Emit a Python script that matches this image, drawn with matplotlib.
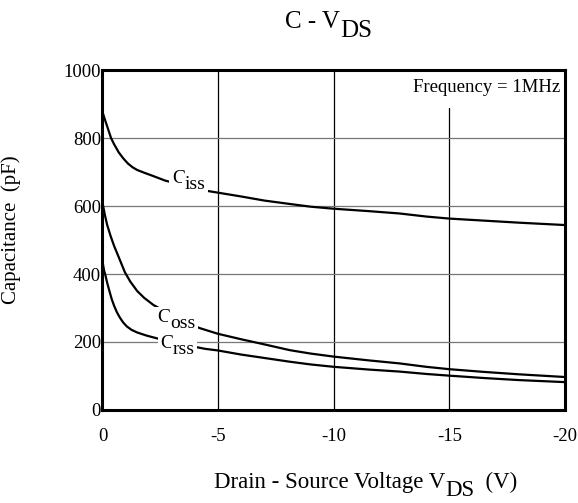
"""C - VDS capacitance curves (Ciss, Coss, Crss vs drain-source voltage)"""
import matplotlib
matplotlib.use('Agg')
import matplotlib.pyplot as plt

plt.rcParams['font.family'] = 'Liberation Serif'
plt.rcParams['axes.unicode_minus'] = False

# values (V, pF)
V_ISS = [0, -0.1, -0.2, -0.37, -0.5, -0.7, -0.9, -1.1, -1.3, -1.5, -1.8, -2.2, -2.7, -3.6, -4.57,
         -6, -7, -8.1, -9, -10, -11.5, -12.85, -14, -15, -16.5, -18, -20]
C_ISS = [877, 855, 835, 800, 782, 758, 740, 725, 714, 706, 698, 688, 675, 659, 644,
         628, 616, 606, 598, 592, 585, 578, 569, 563, 557, 551, 544]

V_OSS = [0, -0.1, -0.2, -0.35, -0.5, -0.7, -0.97, -1.2, -1.5, -1.8, -2.2, -2.7, -3.2, -3.7, -4.2,
         -5, -6, -7, -8.1, -9, -10, -11.5, -12.85, -14, -15, -16.5, -18, -20]
C_OSS = [610, 575, 545, 512, 483, 450, 405, 378, 350, 330, 309, 290, 272, 255, 241,
         224, 208, 193, 176, 166, 157, 146, 137, 127, 120, 112, 105, 97]

V_RSS = [0, -0.03, -0.07, -0.12, -0.2, -0.3, -0.4, -0.5, -0.62, -0.75, -0.9, -1.05, -1.25, -1.5,
         -1.9, -2.34, -3.3, -4.43, -5, -6, -7, -8.1, -9, -10, -11.5, -12.85, -14, -15, -16.5, -18, -20]
C_RSS = [440, 425, 410, 398, 375, 350, 326, 307, 288, 272, 257, 246, 236, 228,
         219, 211, 195, 180, 175, 163, 153, 142, 134, 127, 119, 113, 106, 101, 94, 88, 82]

X_TICKS = [0, -5, -10, -15, -20]
Y_TICKS = [0, 200, 400, 600, 800, 1000]

# curve labels: (main, subscript, V, C baseline)
CURVE_LABELS = [
    ("C", "iss", -3.56, 668),
    ("C", "oss", -2.92, 259),
    ("C", "rss", -3.05, 182),
]

fig = plt.figure(figsize=(5.78, 5.03), dpi=100)
ax = fig.add_axes([0.1773, 0.1849, 0.8002, 0.6759])

for v, c in [(V_ISS, C_ISS), (V_OSS, C_OSS), (V_RSS, C_RSS)]:
    ax.plot(v, c, color='black', linewidth=1.6, zorder=2, solid_joinstyle='round')

ax.set_xlim(0, -20)
ax.set_ylim(0, 1000)
ax.set_xticks(X_TICKS)
ax.set_xticklabels([str(t) for t in X_TICKS])
ax.set_yticks(Y_TICKS)
ax.tick_params(axis='both', length=0, labelsize=13.5)
ax.tick_params(axis='x', pad=13)
ax.tick_params(axis='y', pad=1)
ax.xaxis.grid(True, color='black', linewidth=0.9)
ax.yaxis.grid(True, color='#777777', linewidth=0.9)
for sp in ax.spines.values():
    sp.set_linewidth(2.2)

box = dict(boxstyle='square,pad=0.12', facecolor='white', edgecolor='none')


def sub_label(main, sub, x, y, size, drop, coords, rest='', ha='left', **kw):
    t = ax.annotate(main, xy=(x, y), xycoords=coords, ha=ha, va='baseline',
                    fontsize=size, annotation_clip=False, **kw)
    s = ax.annotate(sub, xy=(1, 0), xycoords=t, xytext=(0, -drop),
                    textcoords='offset points', ha='left', va='bottom',
                    fontsize=size, annotation_clip=False, **kw)
    if rest:
        ax.annotate(rest, xy=(1, 0), xycoords=s, xytext=(0, drop),
                    textcoords='offset points', ha='left', va='bottom',
                    fontsize=size, annotation_clip=False, **kw)


for main, sub, v, c in CURVE_LABELS:
    sub_label(main, sub, v, c, 14, 4.3, 'data', ha='right', bbox=box, zorder=3)

ax.text(-19.8, 934, "Frequency = 1MHz", ha='right', va='baseline', fontsize=13.5,
        zorder=2.2, bbox=dict(boxstyle='square,pad=0.62', facecolor='white', edgecolor='none'))

# title and axis labels
sub_label("C - V", "DS", 285 / 578, 1 - 28 / 503, 18, 6.3, 'figure fraction')
sub_label("Drain - Source Voltage V", "DS", 214 / 578, 1 - 488 / 503, 16.5, 5.5,
          'figure fraction', rest="  (V)")
ax.set_ylabel("Capacitance  (pF)", fontsize=15)
ax.yaxis.set_label_coords(-0.176, 0.53)

plt.savefig('out.png', dpi=100)
